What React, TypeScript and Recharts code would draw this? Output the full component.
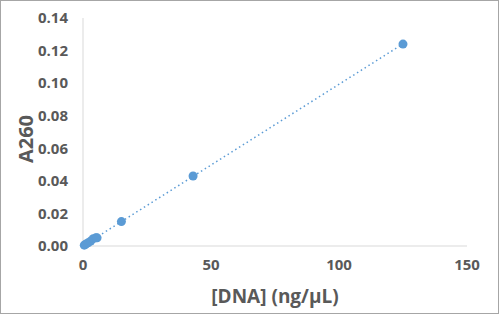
import React from "react";
import {
  ScatterChart,
  Scatter,
  XAxis,
  YAxis,
  Label,
} from "recharts";

// standard curve readings
const concentrations = [0.5, 1, 2, 3, 4, 5, 5.5, 15, 43, 125];
const absorbances = [0.0005, 0.001, 0.002, 0.003, 0.0045, 0.005, 0.005, 0.015, 0.043, 0.124];

// linear trendline end points
const trendX = [0, 125];
const trendY = [0.0001, 0.1241];

const xTicks = [0, 50, 100, 150];
const yTicks = [0, 0.02, 0.04, 0.06, 0.08, 0.1, 0.12, 0.14];

const points = concentrations.map((x, i) => ({ x, y: absorbances[i] }));
const trend = trendX.map((x, i) => ({ x, y: trendY[i] }));

const textColor = "#595959";
const font = "'Open Sans', 'Liberation Sans', sans-serif";

// y title sits a bit below the middle of the plot, like the original
const YTitle = ({ viewBox }: any) => {
  const cx = viewBox.x + 24;
  const cy = viewBox.y + viewBox.height / 2 + 7;
  return (
    <text
      x={cx}
      y={cy}
      transform={`rotate(-90, ${cx}, ${cy})`}
      textAnchor="middle"
      dominantBaseline="central"
      fill={textColor}
      fontSize={20}
      fontWeight={700}
    >
      A260
    </text>
  );
};

export default function App() {
  return (
    <div
      style={{
        position: "absolute",
        left: 0,
        top: 0,
        width: 499,
        height: 314,
        border: "1px solid #a6a6a6",
        boxSizing: "border-box",
        background: "#fff",
        overflow: "hidden",
      }}
    >
      <ScatterChart
        width={497}
        height={312}
        margin={{ top: 17, right: 31, left: 0, bottom: 0 }}
        style={{ fontFamily: font }}
      >
        <XAxis
          type="number"
          dataKey="x"
          domain={[0, 150]}
          ticks={xTicks}
          tickLine={false}
          tickSize={0}
          tickMargin={13}
          axisLine={{ stroke: "#d9d9d9" }}
          tick={{ fill: textColor, fontSize: 15, fontWeight: 700 }}
          height={67}
        >
          <Label
            value="[DNA] (ng/µL)"
            position="insideBottom"
            offset={10}
            fill={textColor}
            fontSize={19}
            fontWeight={700}
          />
        </XAxis>
        <YAxis
          type="number"
          dataKey="y"
          domain={[0, 0.14]}
          ticks={yTicks}
          tickFormatter={(v: number) => v.toFixed(2)}
          tickLine={false}
          tickSize={0}
          tickMargin={15}
          axisLine={{ stroke: "#d9d9d9" }}
          tick={{ fill: textColor, fontSize: 15, fontWeight: 700 }}
          width={82}
        >
          <Label content={<YTitle />} />
        </YAxis>
        <Scatter
          data={trend}
          line={{ stroke: "#5b9bd5", strokeWidth: 1.5, strokeDasharray: "1.5 3" }}
          shape={() => null}
          isAnimationActive={false}
        />
        <Scatter
          data={points}
          fill="#5b9bd5"
          shape={(p: any) => <circle cx={p.cx} cy={p.cy} r={4.5} fill="#5b9bd5" />}
          isAnimationActive={false}
        />
      </ScatterChart>
    </div>
  );
}
